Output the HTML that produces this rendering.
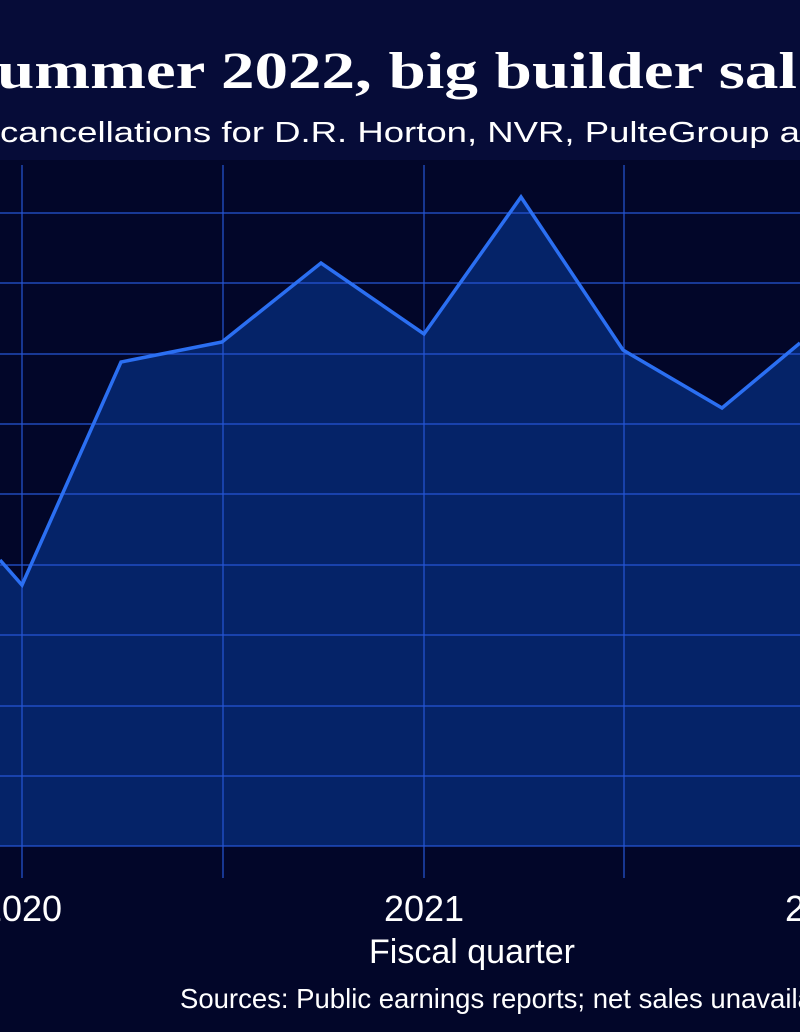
<!DOCTYPE html>
<html><head><meta charset="utf-8"><style>
html,body{margin:0;padding:0;background:#020629;}
svg{display:block}
</style></head><body>
<svg width="800" height="1032" viewBox="0 0 800 1032" xmlns="http://www.w3.org/2000/svg">
<rect x="0" y="0" width="800" height="1032" fill="#020629"/>
<rect x="0" y="0" width="800" height="160" fill="#060c38"/>
<text x="-3" y="88" font-family="Liberation Serif, serif" font-weight="bold" font-size="52" fill="#ffffff" textLength="800" lengthAdjust="spacingAndGlyphs">ummer 2022, big builder sal</text>
<text x="0" y="142" font-family="Liberation Sans, sans-serif" font-size="29" fill="#ffffff" textLength="800" lengthAdjust="spacingAndGlyphs">cancellations for D.R. Horton, NVR, PulteGroup a</text>
<polygon points="0,560 22,585 121,362 222,342 321,263 424,334 521,197 623,350 722,408 800,343 800,846 0,846" fill="#052368"/>
<g stroke="#2656d6" stroke-width="1.2">
<line x1="0" y1="213" x2="800" y2="213"/><line x1="0" y1="283" x2="800" y2="283"/>
<line x1="0" y1="354" x2="800" y2="354"/><line x1="0" y1="424" x2="800" y2="424"/>
<line x1="0" y1="494" x2="800" y2="494"/><line x1="0" y1="565" x2="800" y2="565"/>
<line x1="0" y1="635" x2="800" y2="635"/><line x1="0" y1="706" x2="800" y2="706"/>
<line x1="0" y1="776" x2="800" y2="776"/><line x1="0" y1="846" x2="800" y2="846"/>
<line x1="22" y1="165" x2="22" y2="878"/><line x1="223" y1="165" x2="223" y2="878"/>
<line x1="424" y1="165" x2="424" y2="878"/><line x1="624" y1="165" x2="624" y2="878"/>
</g>
<polyline points="0,560 22,585 121,362 222,342 321,263 424,334 521,197 623,350 722,408 800,343" fill="none" stroke="#2b6ff2" stroke-width="3.5" stroke-linejoin="miter"/>
<g font-family="Liberation Sans, sans-serif" fill="#ffffff">
<text x="22" y="921" font-size="36" text-anchor="middle">2020</text>
<text x="424" y="921" font-size="36" text-anchor="middle">2021</text>
<text x="825" y="921" font-size="36" text-anchor="middle">2022</text>
<text x="472" y="963" font-size="34" text-anchor="middle">Fiscal quarter</text>
<text x="180" y="1008" font-size="27.5">Sources: Public earnings reports; net sales unavailable</text>
</g>
</svg>
</body></html>
